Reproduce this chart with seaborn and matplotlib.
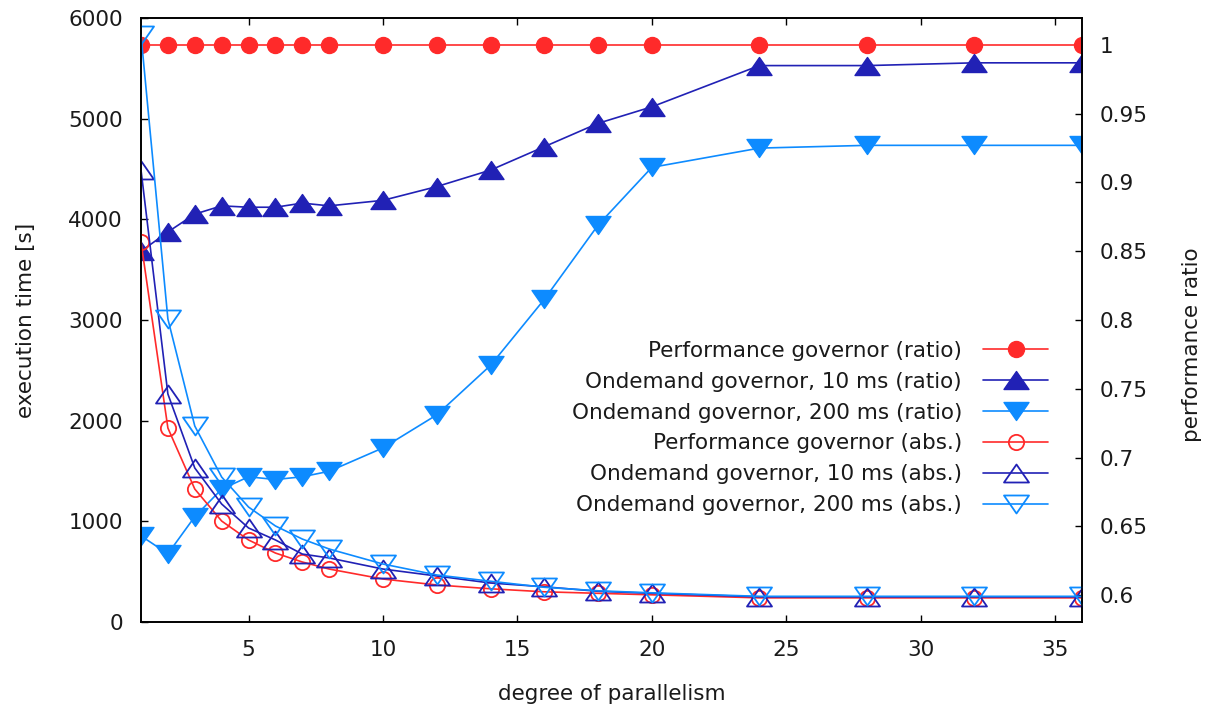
import matplotlib
matplotlib.use("Agg")
import matplotlib.pyplot as plt
from matplotlib.path import Path
from matplotlib.ticker import FixedLocator, FixedFormatter
import seaborn as sns

# ---------------- data ----------------
parallelism = [1, 2, 3, 4, 5, 6, 7, 8, 10, 12, 14, 16, 18, 20, 24, 28, 32, 36]

perf_ratio = [1.0, 1.0, 1.0, 1.0, 1.0, 1.0, 1.0, 1.0, 1.0, 1.0, 1.0, 1.0, 1.0, 1.0, 1.0, 1.0, 1.0, 1.0]
od10_ratio = [0.850, 0.864, 0.877, 0.883, 0.882, 0.882, 0.885, 0.883, 0.887, 0.897,
              0.909, 0.926, 0.943, 0.955, 0.985, 0.985, 0.987, 0.987]
od200_ratio = [0.643, 0.630, 0.657, 0.677, 0.686, 0.684, 0.686, 0.690, 0.707, 0.731,
               0.767, 0.815, 0.869, 0.911, 0.925, 0.927, 0.927, 0.927]

perf_abs = [3775, 1927, 1321, 1003, 815, 685, 596, 526, 427, 368, 330, 300, 285, 270, 240, 240, 240, 240]
od10_abs = [4490, 2265, 1530, 1172, 934, 815, 675, 636, 526, 457, 387, 350, 305, 285, 250, 250, 250, 250]
od200_abs = [5830, 3010, 1947, 1440, 1142, 954, 824, 725, 576, 467, 405, 345, 310, 290, 255, 255, 255, 255]

labels = ["Performance governor (ratio)",
          "Ondemand governor, 10 ms (ratio)",
          "Ondemand governor, 200 ms (ratio)",
          "Performance governor (abs.)",
          "Ondemand governor, 10 ms (abs.)",
          "Ondemand governor, 200 ms (abs.)"]

x_ticks = [5, 10, 15, 20, 25, 30, 35]
left_ticks = [0, 1000, 2000, 3000, 4000, 5000, 6000]
right_ticks = [0.6, 0.65, 0.7, 0.75, 0.8, 0.85, 0.9, 0.95, 1.0]
right_tick_labels = ["0.6", "0.65", "0.7", "0.75", "0.8", "0.85", "0.9", "0.95", "1"]

# ---------------- style ----------------
sns.set_theme(style="white")
plt.rcParams["font.family"] = ["DejaVu Sans"]
FS = 15.5
TXT = "#1a1a1a"

RED = "#ff2a2a"
DBLUE = "#2121b5"
LBLUE = "#0d8bff"

tri_up = Path([(0, 0.72), (-1, -0.72), (1, -0.72), (0, 0.72)], closed=True)
tri_dn = Path([(0, -0.72), (-1, 0.72), (1, 0.72), (0, -0.72)], closed=True)

fig = plt.figure(figsize=(12.05, 7.14), dpi=100)
L, R, T, B = 141 / 1205, 1082 / 1205, 18 / 714, 622 / 714
ax_r = fig.add_axes([L, 1 - B, R - L, B - T])   # ratio axis (right scale)
ax_a = ax_r.twinx()                              # absolute axis (left scale), drawn on top

ax_r.yaxis.tick_right()
ax_r.yaxis.set_label_position("right")
ax_a.yaxis.tick_left()
ax_a.yaxis.set_label_position("left")


def draw(ax, y, color, marker, ms, filled, label):
    sns.lineplot(x=parallelism, y=y, ax=ax, color=color, marker=marker,
                 markersize=ms, markerfacecolor=color if filled else "none",
                 markeredgecolor=color, markeredgewidth=1.3 if not filled else 1.0,
                 linewidth=1.2, label=label, legend=False)
    return ax.lines[-1]


h = []
h.append(draw(ax_r, perf_ratio, RED, "o", 11.5, True, labels[0]))
h.append(draw(ax_r, od10_ratio, DBLUE, tri_up, 18, True, labels[1]))
h.append(draw(ax_r, od200_ratio, LBLUE, tri_dn, 18, True, labels[2]))
h.append(draw(ax_a, perf_abs, RED, "o", 11, False, labels[3]))
h.append(draw(ax_a, od10_abs, DBLUE, tri_up, 18, False, labels[4]))
h.append(draw(ax_a, od200_abs, LBLUE, tri_dn, 18, False, labels[5]))

# ---------------- axes ----------------
ax_r.set_xlim(1, 36)
ax_r.set_ylim(0.5804, 1.0196)
ax_a.set_ylim(0, 6000)

ax_r.xaxis.set_major_locator(FixedLocator(x_ticks))
ax_a.yaxis.set_major_locator(FixedLocator(left_ticks))
ax_r.yaxis.set_major_locator(FixedLocator(right_ticks))
ax_r.yaxis.set_major_formatter(FixedFormatter(right_tick_labels))

ax_r.tick_params(axis="x", direction="in", top=True, bottom=True, length=5, width=1.0,
                 color="black", labelsize=FS, labelcolor=TXT, pad=13)
ax_r.tick_params(axis="y", direction="in", left=False, right=True, labelleft=False,
                 labelright=True, length=5, width=1.0, color="black",
                 labelsize=FS, labelcolor=TXT, pad=13)
ax_a.tick_params(axis="y", direction="in", left=True, right=False, labelleft=True,
                 labelright=False, length=5, width=1.0, color="black",
                 labelsize=FS, labelcolor=TXT, pad=13)

for ax in (ax_r, ax_a):
    for s in ax.spines.values():
        s.set_color("black")
        s.set_linewidth(1.2)
    ax.grid(False)

ax_r.set_xlabel("degree of parallelism", fontsize=FS, color=TXT, va="center")
ax_r.xaxis.set_label_coords((612 - 141) / 941, (622 - 694) / 604)
ax_a.set_ylabel("execution time [s]", fontsize=FS, color=TXT, va="center")
ax_a.yaxis.set_label_coords((26 - 141) / 941, 0.5)
ax_r.set_ylabel("performance ratio", fontsize=FS, color=TXT, va="center", rotation=90)
ax_r.yaxis.set_label_coords((1192 - 141) / 941, (622 - 345) / 604)

leg = ax_a.legend(h, labels, loc="center right",
                  bbox_to_anchor=(1048 / 1205, 1 - 428 / 714),
                  bbox_transform=fig.transFigure, frameon=False, markerfirst=False,
                  handlelength=3.0, handletextpad=1.0, labelspacing=0.51,
                  borderpad=0, borderaxespad=0, fontsize=FS)
for t in leg.get_texts():
    t.set_color(TXT)

fig.savefig("out.png", dpi=100)
